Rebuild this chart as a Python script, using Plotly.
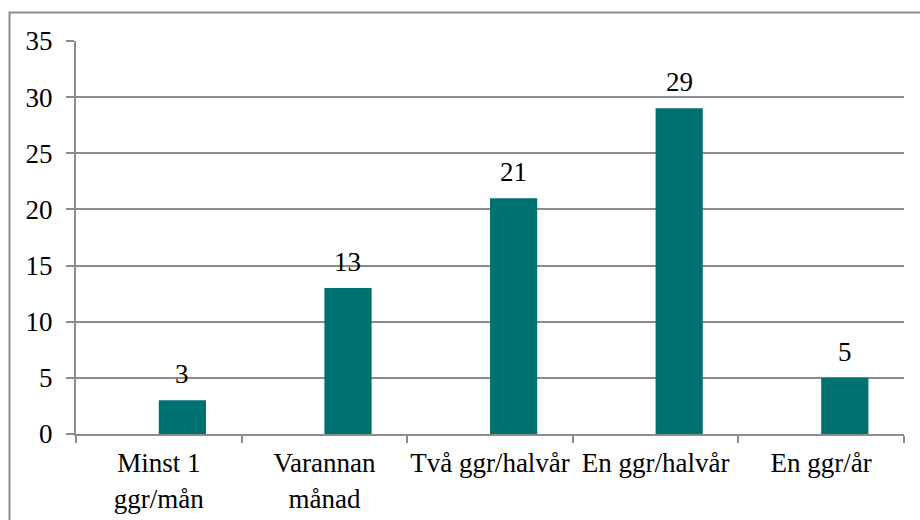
import plotly.graph_objects as go

categories = ["Minst 1<br>ggr/mån", "Varannan<br>månad", "Två ggr/halvår", "En ggr/halvår", "En ggr/år"]
values = [3, 13, 21, 29, 5]
y_ticks = [0, 5, 10, 15, 20, 25, 30, 35]

FONT = "'Times New Roman', 'Liberation Serif', 'DejaVu Serif', serif"
GRAY = "#8c8c8c"
SIZE = 27

fig = go.Figure(go.Bar(
    x=categories, y=values,
    marker=dict(color="#007070", line=dict(width=0)),
    width=0.285, offset=0, cliponaxis=False,
))

annotations = [
    dict(x=c, y=v, xref="x", yref="y", text=str(v), showarrow=False,
         xanchor="center", yanchor="bottom", xshift=23.5, yshift=9,
         font=dict(family=FONT, size=SIZE, color="black"))
    for c, v in zip(categories, values)
]

fig.update_layout(
    width=920, height=520,
    margin=dict(l=76, r=16, t=41, b=86),
    paper_bgcolor="white", plot_bgcolor="white",
    font=dict(family=FONT, size=SIZE, color="black"),
    showlegend=False,
    annotations=annotations,
    xaxis=dict(showline=True, linecolor=GRAY, linewidth=2, ticks="outside",
               tickson="boundaries", ticklen=7, tickcolor=GRAY, tickwidth=2,
               showgrid=False, tickfont=dict(family=FONT, size=SIZE), automargin=False,
               ticklabelstandoff=4, tickangle=0),
    yaxis=dict(range=[0, 35], tickvals=y_ticks, showline=True, linecolor=GRAY,
               linewidth=2, ticks="outside", ticklen=8, tickcolor=GRAY, tickwidth=2,
               showgrid=True, gridcolor=GRAY, gridwidth=2, zeroline=False,
               tickfont=dict(family=FONT, size=SIZE), automargin=False,
               ticklabelstandoff=8),
    shapes=[dict(type="rect", xref="paper", yref="paper", x0=-0.0803, x1=1.2,
                 y0=-0.4, y1=1.0725, line=dict(color=GRAY, width=2), layer="below")],
)

fig.write_html("out.html", config={"displayModeBar": False},
               post_script="document.body.style.margin='0';")
